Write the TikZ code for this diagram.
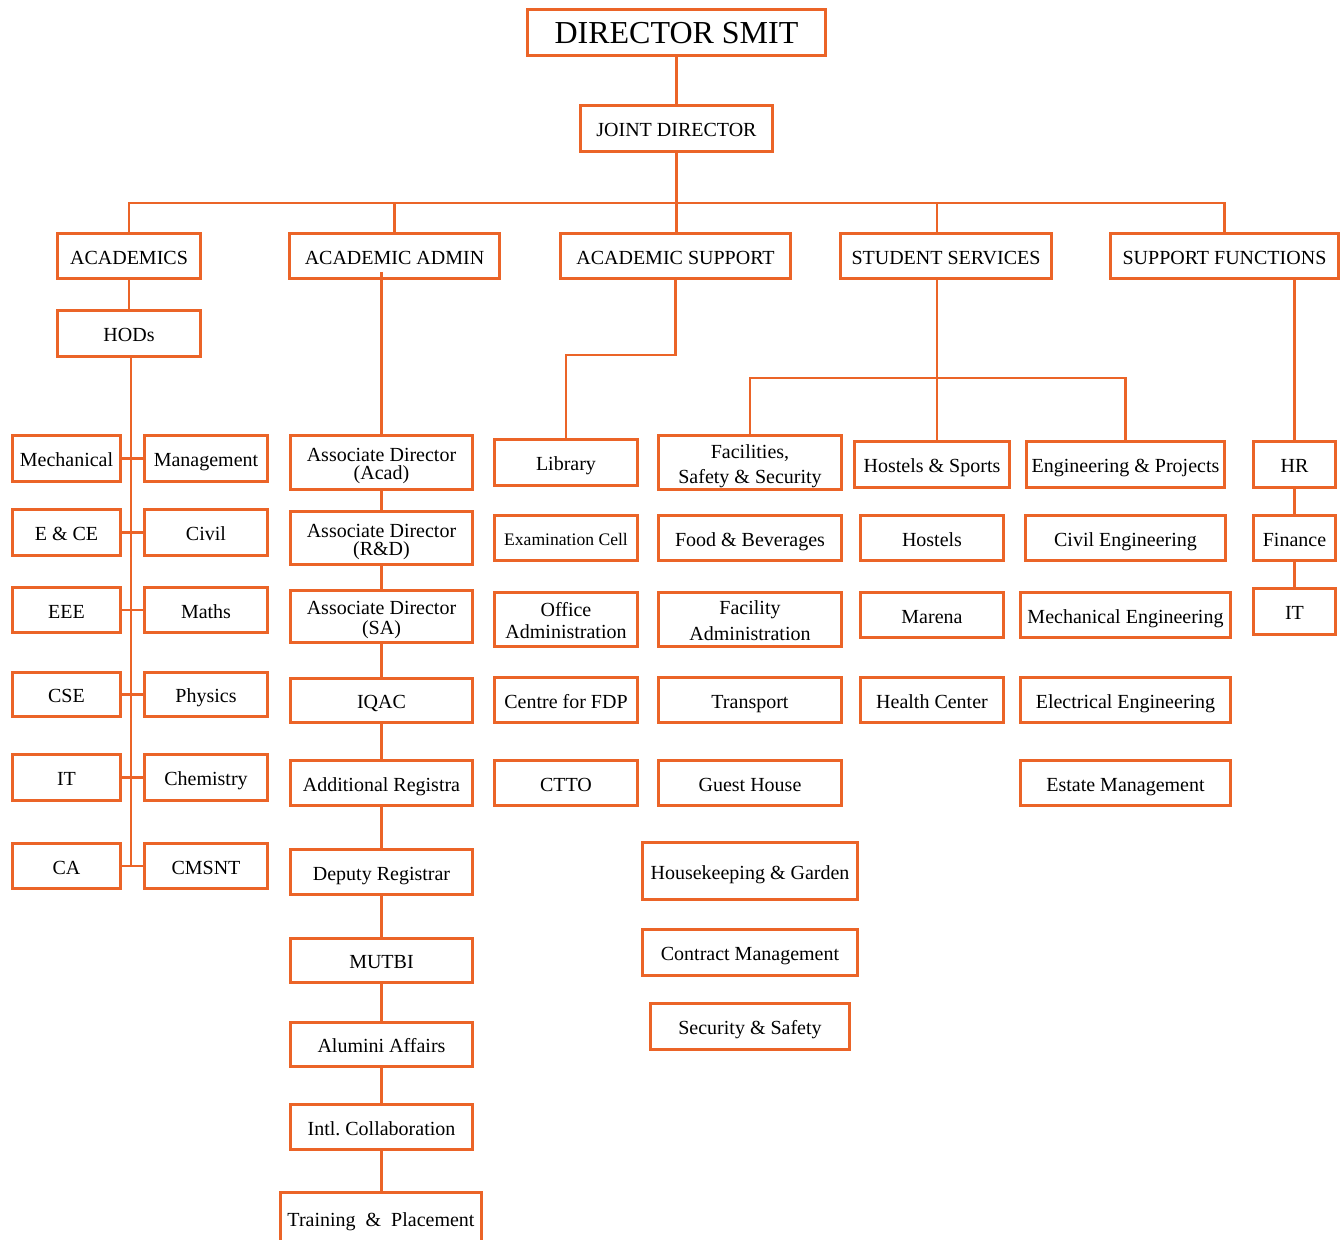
\documentclass[tikz,border=0pt]{standalone}
\usepackage{fontspec}
\setmainfont{Liberation Serif}
\usetikzlibrary{calc}
\frenchspacing
\definecolor{orng}{RGB}{235,100,40}
\newcommand\bx[7][]{%
  \pgfmathsetmacro\bw{(#5-#3-3)*0.5}%
  \pgfmathsetmacro\bh{(#6-#4-3)*0.5}%
  \node[bx,minimum width=\bw pt,minimum height=\bh pt,#1] (#2) at ({(#3+#5)/2},{(#4+#6)/2})
    {\raisebox{-1.7pt}[\height][\depth]{\begin{tabular}{@{}c@{}}#7\end{tabular}}};}
\begin{document}
\begin{tikzpicture}[x=0.5pt,y=-0.5pt,
  bx/.style={draw=orng,line width=1.5pt,inner sep=0pt,
    font=\fontsize{10}{12}\selectfont,text=black},
  ln/.style={draw=orng,line width=1.4pt}]
\useasboundingbox (0,0) rectangle (1341,1240);
% top levels
\bx[font=\fontsize{16}{18}\selectfont]{top}{526}{8}{827}{57}{DIRECTOR SMIT}
\bx{jd}{579}{104}{774}{153}{JOINT DIRECTOR}
\bx{acad}{56}{232}{202}{280}{ACADEMICS}
\bx{acadm}{288}{232}{501}{280}{ACADEMIC ADMIN}
\bx{acsup}{559}{232}{792}{280}{ACADEMIC SUPPORT}
\bx{stud}{839}{232}{1053}{280}{STUDENT SERVICES}
\bx{supf}{1109}{232}{1340}{280}{SUPPORT FUNCTIONS}
\bx{hods}{56}{309}{202}{358}{HODs}
% departments
\bx{mech}{11}{434}{122}{483}{Mechanical}
\bx{ece}{11}{508}{122}{557}{E \& CE}
\bx{eee}{11}{586}{122}{634}{EEE}
\bx{cse}{11}{671}{122}{718}{CSE}
\bx{it}{11}{753}{122}{802}{IT}
\bx{ca}{11}{842}{122}{890}{CA}
\bx{mgmt}{143}{434}{269}{483}{Management}
\bx{civil}{143}{508}{269}{557}{Civil}
\bx{maths}{143}{586}{269}{634}{Maths}
\bx{phys}{143}{671}{269}{718}{Physics}
\bx{chem}{143}{753}{269}{802}{Chemistry}
\bx{cmsnt}{143}{842}{269}{890}{CMSNT}
% academic admin
\bx{ad1}{289}{434}{474}{491}{Associate Director\\[-3pt](Acad)}
\bx{ad2}{289}{510}{474}{566}{Associate Director\\[-3pt](R\&D)}
\bx{ad3}{289}{589}{474}{644}{Associate Director\\[-2pt](SA)}
\bx{iqac}{289}{677}{474}{724}{IQAC}
\bx{addreg}{289}{759}{474}{807}{Additional Registra}
\bx{depreg}{289}{848}{474}{896}{Deputy Registrar}
\bx{mutbi}{289}{937}{474}{984}{MUTBI}
\bx{alum}{289}{1021}{474}{1068}{Alumini Affairs}
\bx{intl}{289}{1103}{474}{1151}{Intl. Collaboration}
\bx{train}{279}{1191}{483}{1246}{Training\ \ \&\ \ Placement}
% academic support
\bx{lib}{493}{438}{639}{487}{Library}
\bx[font=\fontsize{8.8}{10}\selectfont]{exam}{493}{514}{639}{562}{Examination Cell}
\bx{office}{493}{591}{639}{648}{Office\\[-1.2pt]Administration}
\bx{fdp}{493}{676}{639}{724}{Centre for FDP}
\bx{ctto}{493}{759}{639}{807}{CTTO}
% student services
\bx{fss}{657}{434}{843}{491}{Facilities,\\[0.5pt]Safety \& Security}
\bx{food}{657}{514}{843}{562}{Food \& Beverages}
\bx{facadm}{657}{591}{843}{648}{Facility\\[1.3pt]Administration}
\bx{transp}{657}{676}{843}{724}{Transport}
\bx{guest}{657}{759}{843}{807}{Guest House}
\bx{house}{641}{841}{859}{901}{Housekeeping \& Garden}
\bx{contract}{641}{928}{859}{977}{Contract Management}
\bx{secsaf}{649}{1002}{851}{1051}{Security \& Safety}
\bx{hs}{853}{440}{1011}{489}{Hostels \& Sports}
\bx{hostels}{859}{514}{1005}{562}{Hostels}
\bx{marena}{859}{591}{1005}{639}{Marena}
\bx{health}{859}{676}{1005}{724}{Health Center}
\bx{ep}{1025}{440}{1226}{489}{Engineering \& Projects}
\bx{civeng}{1024}{514}{1227}{562}{Civil Engineering}
\bx{mecheng}{1019}{591}{1232}{639}{Mechanical Engineering}
\bx{elec}{1019}{676}{1232}{724}{Electrical Engineering}
\bx{estate}{1019}{759}{1232}{807}{Estate Management}
% support functions
\bx{hr}{1252}{440}{1337}{489}{HR}
\bx{fin}{1252}{514}{1337}{562}{Finance}
\bx{itsf}{1252}{587}{1337}{636}{IT}
% helper coordinates
\coordinate (bus) at (0,203);
\coordinate (sbus) at (0,378);
\coordinate (ssdrop) at (937,203);
\coordinate (spine) at ($(hods.south)+(2,0)$);
% connectors
\draw[ln] (top.south) -- (jd.north);
\draw[ln] (jd.south) -- (jd.south |- acsup.north);
\draw[ln] (acad.north) -- (acad.north |- bus) -- (supf.north |- bus) -- (supf.north);
\draw[ln] (acadm.north) -- (acadm.north |- bus);
\draw[ln] (ssdrop) -- (ssdrop |- stud.north);
\draw[ln] (acad.south) -- (hods.north);
\draw[ln] (spine) -- (spine |- ca.east);
\foreach \l/\r in {mech/mgmt,ece/civil,eee/maths,cse/phys,it/chem,ca/cmsnt}
  \draw[ln] (\l.east) -- (\r.west);
% academic admin chain
\draw[ln] ($(ad1.north |- acadm.south)+(0,-8)$) -- (ad1.north);
\foreach \a/\b in {ad1/ad2,ad2/ad3,ad3/iqac,iqac/addreg,addreg/depreg,depreg/mutbi,mutbi/alum,alum/intl,intl/train}
  \draw[ln] (\a.south) -- (\a.south |- \b.north);
% academic support
\draw[ln] (acsup.south) -- ++(0,75) -| (lib.north);
% student services
\draw[ln] (ssdrop |- stud.south) -- (ssdrop |- hs.north);
\draw[ln] (fss.north) -- (fss.north |- sbus) -| (ep.north);
% support functions
\draw[ln] (hr.north |- supf.south) -- (hr.north);
\draw[ln] (hr.south) -- (fin.north);
\draw[ln] (fin.south) -- (itsf.north);
\end{tikzpicture}
\end{document}
